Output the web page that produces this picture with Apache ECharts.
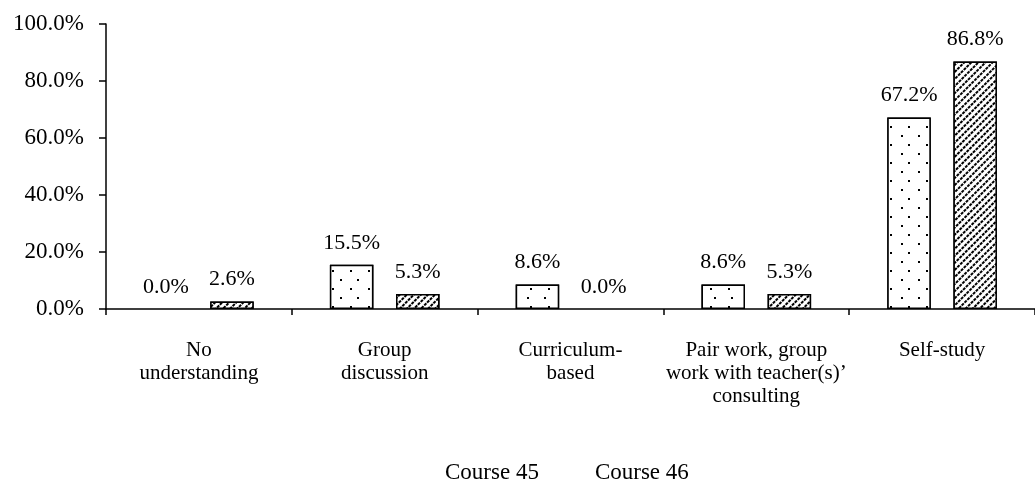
<!DOCTYPE html>
<html>
<head>
<meta charset="utf-8">
<script src="https://cdn.jsdelivr.net/npm/echarts@6/dist/echarts.min.js"></script>
<style>
  html, body { margin: 0; padding: 0; background: #fff; }
  #chart { width: 1035px; height: 488px; }
</style>
</head>
<body>
<div id="chart"></div>
<script>
// categories on the x axis
var categories = [
  'No\nunderstanding',
  'Group\ndiscussion',
  'Curriculum-\nbased',
  'Pair work, group\nwork with teacher(s)\u2019\nconsulting',
  'Self-study'
]
// percent per course
var course45 = [0.0, 15.5, 8.6, 8.6, 67.2]
var course46 = [2.6, 5.3, 0.0, 5.3, 86.8]
var yTicks = [0, 20, 40, 60, 80, 100]

var font = 'Liberation Serif'

// dotted fill
var dots = {
  symbol: 'rect',
  symbolSize: 1,
  color: '#000',
  backgroundColor: '#fff',
  dashArrayX: [[2, 15], [0, 8, 1.5, 7.5]],
  dashArrayY: [2, 6.5],
  rotation: 0
}
// diagonal hatch
var hatch = {
  symbol: 'rect',
  symbolSize: 1,
  color: '#000',
  backgroundColor: '#fff',
  dashArrayX: [3, 1],
  dashArrayY: [1.5, 2.5],
  rotation: -Math.PI / 4
}

// zero bars draw no outline
function toData (arr) {
  return arr.map(function (v) {
    return v === 0 ? { value: v, itemStyle: { borderWidth: 0 } } : v
  })
}

function barLabel () {
  return {
    show: true,
    position: 'top',
    distance: 11,
    color: '#000',
    fontFamily: font,
    fontSize: 22,
    formatter: function (p) { return p.value.toFixed(1) + '%' }
  }
}

var myChart = echarts.init(document.getElementById('chart'))
myChart.setOption({
  animation: false,
  backgroundColor: '#fff',
  textStyle: { fontFamily: font },
  grid: { left: 106, top: 24, width: 940, height: 285 },
  legend: {
    top: 456,
    left: 435,
    icon: 'none',
    itemWidth: 0,
    itemGap: 51,
    textStyle: { fontFamily: font, fontSize: 23, color: '#000' },
    data: ['Course 45', 'Course 46']
  },
  xAxis: {
    type: 'category',
    data: categories,
    axisLine: { lineStyle: { color: '#000', width: 1.5 } },
    axisTick: { show: true, length: 6, inside: false, lineStyle: { color: '#000', width: 1.5 } },
    axisLabel: { color: '#000', fontFamily: font, fontSize: 21, lineHeight: 23, margin: 30, interval: 0 }
  },
  yAxis: {
    type: 'value',
    min: yTicks[0],
    max: yTicks[yTicks.length - 1],
    interval: 20,
    splitLine: { show: false },
    axisLine: { show: true, lineStyle: { color: '#000', width: 1.5 } },
    axisTick: { show: true, length: 7, lineStyle: { color: '#000', width: 1.5 } },
    axisLabel: {
      color: '#000', fontFamily: font, fontSize: 23, margin: 22,
      formatter: function (v) { return v.toFixed(1) + '%' }
    }
  },
  series: [
    {
      name: 'Course 45',
      type: 'bar',
      data: toData(course45),
      barGap: '52%',
      barCategoryGap: '41%',
      itemStyle: { color: '#fff', borderColor: '#000', borderWidth: 1.5, decal: dots },
      label: barLabel()
    },
    {
      name: 'Course 46',
      type: 'bar',
      data: toData(course46),
      barGap: '52%',
      barCategoryGap: '41%',
      itemStyle: { color: '#fff', borderColor: '#000', borderWidth: 1.5, decal: hatch },
      label: barLabel()
    }
  ]
})
</script>
</body>
</html>
